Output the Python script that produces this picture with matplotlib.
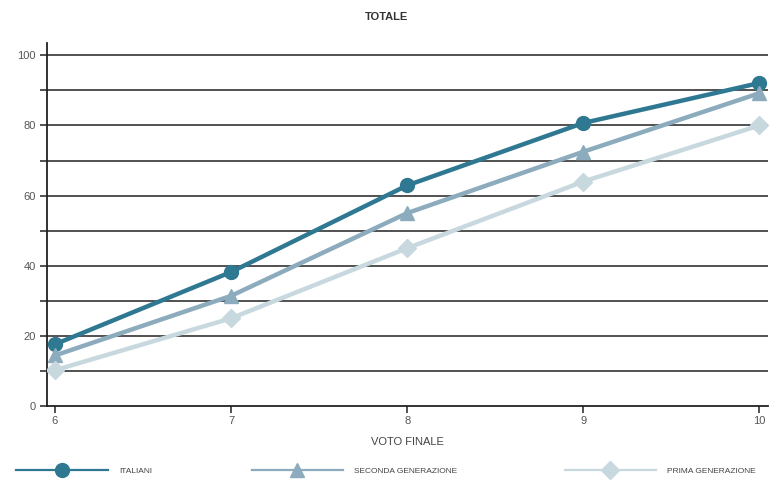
import matplotlib.pyplot as plt
from matplotlib.lines import Line2D
from matplotlib.ticker import MultipleLocator

plt.rcParams['font.family'] = ['Liberation Sans Narrow', 'Liberation Sans', 'DejaVu Sans']

# dati
voti = [6, 7, 8, 9, 10]
italiani = [17.6, 38.2, 62.9, 80.7, 92.1]
seconda = [14.4, 31.4, 55.0, 72.5, 89.2]
prima = [10.2, 25.0, 45.0, 64.0, 80.0]

serie = [
    ('ITALIANI', italiani, '#2f7892', 'o', 10),
    ('SECONDA GENERAZIONE', seconda, '#8cacbe', '^', 10),
    ('PRIMA GENERAZIONE', prima, '#c8d8df', 'D', 9),
]

fig = plt.figure(figsize=(7.73, 4.82), dpi=100)
ax = fig.add_axes([0.0608, 0.1577, 0.933, 0.753])

for nome, valori, colore, marker, ms in serie:
    ax.plot(voti, valori, color=colore, linewidth=3.2, marker=marker,
            markersize=ms, label=nome, zorder=3)

ax.set_xlim(5.955, 10.05)
ax.set_ylim(0, 103.5)
ax.set_xticks(voti)
ax.yaxis.set_major_locator(MultipleLocator(20))
ax.yaxis.set_minor_locator(MultipleLocator(10))

# linee orizzontali
for y in range(10, 101, 10):
    ax.axhline(y, color='#222222', linewidth=1.1, zorder=1)

ax.tick_params(axis='y', which='both', length=5, width=1.1, color='#222222',
               labelsize=8, labelcolor='#555555', pad=3)
ax.tick_params(axis='x', length=5, width=1.1, color='#222222',
               labelsize=8, labelcolor='#555555', pad=2)

for lato in ['top', 'right']:
    ax.spines[lato].set_visible(False)
for lato in ['left', 'bottom']:
    ax.spines[lato].set_linewidth(1.3)
    ax.spines[lato].set_color('#222222')

ax.set_xlabel('VOTO FINALE', fontsize=8, color='#444444', labelpad=8)
fig.text(0.5, 0.965, 'TOTALE', ha='center', va='center', fontsize=8,
         fontweight='bold', color='#333333')

# legenda in basso, tre voci distanziate
pos_x = [0.0116, 0.3157, 0.7206]
for (nome, valori, colore, marker, ms), x0 in zip(serie, pos_x):
    h = Line2D([], [], color=colore, linewidth=1.6, marker=marker, markersize=ms)
    fig.legend([h], [nome], loc='center left', bbox_to_anchor=(x0, 0.022),
               frameon=False, handlelength=11, handletextpad=1.3,
               fontsize=6, labelcolor='#444444')

plt.savefig('out.png', dpi=100)
